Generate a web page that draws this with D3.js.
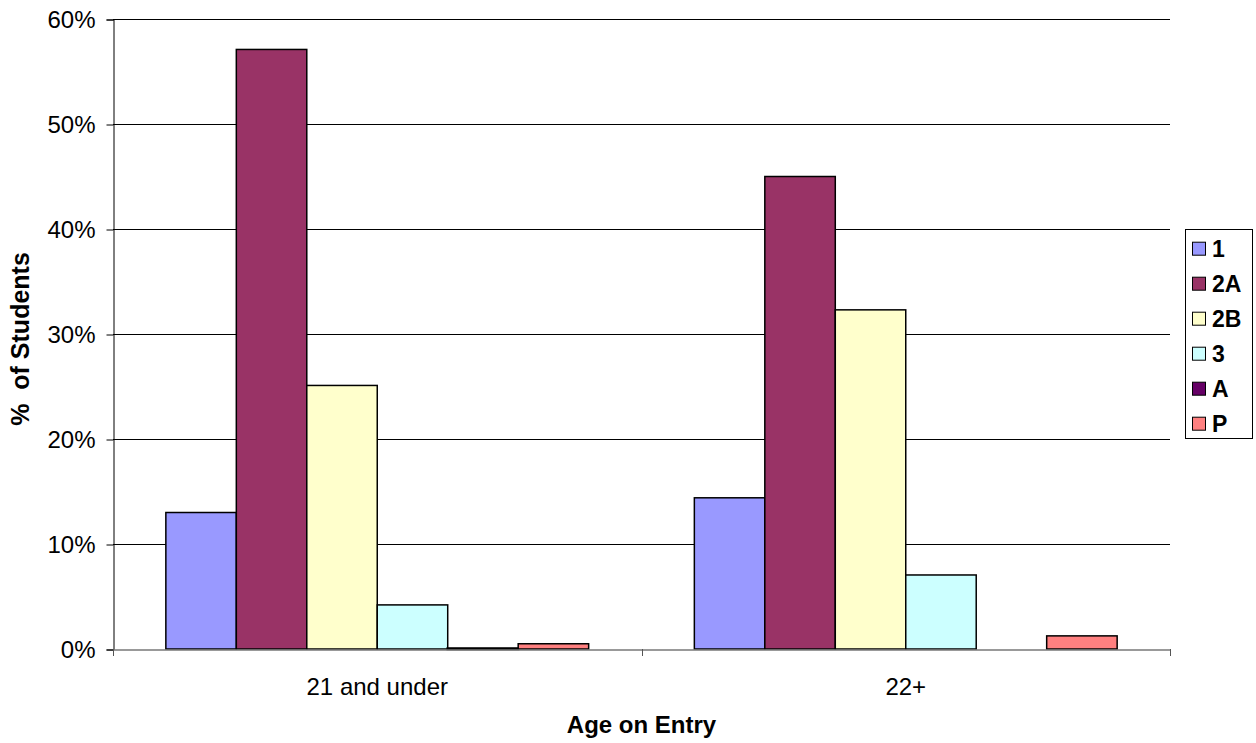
<!DOCTYPE html>
<html>
<head>
<meta charset="utf-8">
<script src="https://cdn.jsdelivr.net/npm/d3@7"></script>
<style>
  html, body { margin: 0; padding: 0; background: #fff; }
  svg text { font-family: "Liberation Sans", Arial, sans-serif; fill: #000; }
</style>
</head>
<body>
<svg id="chart" width="1256" height="743"></svg>
<script>
// Age groups on the x axis
const categories = ["21 and under", "22+"];
// Grade series (percent of students)
const series = ["1", "2A", "2B", "3", "A", "P"];
const values1  = [13.0, 14.4];
const values2A = [57.1, 45.0];
const values2B = [25.1, 32.3];
const values3  = [4.2, 7.05];
const valuesA  = [0.05, 0.0];
const valuesP  = [0.5, 1.25];
const yTicks = [0, 10, 20, 30, 40, 50, 60];
const colors = ["#9999FF", "#993366", "#FFFFCC", "#CCFFFF", "#660066", "#FF8080"];

const seriesValues = [values1, values2A, values2B, values3, valuesA, valuesP];

const svg = d3.select("#chart");
const plot = { left: 113, right: 1170, top: 19, bottom: 649 };

const x0 = d3.scaleBand()
  .domain(categories)
  .range([plot.left, plot.right])
  .paddingInner(0).paddingOuter(0);

// bars fill 6/7.5 of each group (150% gap width)
const groupPad = 0.75 / 7.5 * x0.bandwidth();
const x1 = d3.scaleBand()
  .domain(series)
  .range([groupPad, x0.bandwidth() - groupPad])
  .padding(0);

const y = d3.scaleLinear().domain([0, 60]).range([plot.bottom, plot.top]);

// horizontal gridlines
svg.append("g")
  .selectAll("line")
  .data(yTicks.filter(t => t > 0))
  .join("line")
  .attr("x1", plot.left).attr("x2", plot.right)
  .attr("y1", d => y(d) + 0.5).attr("y2", d => y(d) + 0.5)
  .attr("stroke", "#000").attr("stroke-width", 1);

// y axis
const yAxis = d3.axisLeft(y)
  .tickValues(yTicks)
  .tickFormat(d => d + "%")
  .tickSize(7)
  .tickPadding(11);
const gy = svg.append("g")
  .attr("transform", `translate(${plot.left + 0.5},0.5)`)
  .call(yAxis);
gy.select(".domain").attr("stroke", "#000");
gy.selectAll(".tick line").attr("stroke", "#000");
gy.selectAll("text").style("font-size", "24px").attr("fill", "#000");

// bars
const rows = [];
categories.forEach((c, ci) => {
  series.forEach((s, si) => {
    rows.push({ cat: c, ser: s, si: si, value: seriesValues[si][ci] });
  });
});

svg.append("g")
  .selectAll("rect")
  .data(rows.filter(d => d.value > 0))
  .join("rect")
  .attr("x", d => x0(d.cat) + x1(d.ser))
  .attr("width", x1.bandwidth())
  .attr("y", d => y(d.value))
  .attr("height", d => y(0) - y(d.value))
  .attr("fill", d => colors[d.si])
  .attr("stroke", "#000")
  .attr("stroke-width", d => d.value < 0.2 ? 2.5 : 1.5);

// x axis
const xAxis = d3.axisBottom(x0).tickSize(0).tickPadding(28);
const gx = svg.append("g")
  .attr("transform", `translate(0,${plot.bottom + 0.5})`)
  .call(xAxis);
gx.select(".domain").attr("stroke", "#777").attr("stroke-width", 1.5);
gx.selectAll("text").style("font-size", "24px").attr("fill", "#000");

// category separator ticks
const sepX = [plot.left, plot.left + x0.bandwidth(), plot.right];
svg.append("g")
  .selectAll("line")
  .data(sepX)
  .join("line")
  .attr("x1", d => Math.round(d) + 0.5).attr("x2", d => Math.round(d) + 0.5)
  .attr("y1", plot.bottom).attr("y2", plot.bottom + 7)
  .attr("stroke", "#555").attr("stroke-width", 1);

// axis titles
svg.append("text")
  .attr("x", (plot.left + plot.right) / 2)
  .attr("y", 733)
  .attr("text-anchor", "middle")
  .style("font-size", "24px")
  .style("font-weight", "bold")
  .text("Age on Entry");

svg.append("text")
  .attr("transform", "translate(29,339) rotate(-90)")
  .attr("text-anchor", "middle")
  .style("font-size", "25px")
  .style("font-weight", "bold")
  .style("white-space", "pre")
  .text("%  of Students");

// legend
const legend = svg.append("g").attr("transform", "translate(1185,229)");
legend.append("rect")
  .attr("x", 0.5).attr("y", 0.5)
  .attr("width", 67).attr("height", 209)
  .attr("fill", "#fff").attr("stroke", "#000").attr("stroke-width", 1);

const items = legend.selectAll("g.item")
  .data(series)
  .join("g")
  .attr("class", "item")
  .attr("transform", (d, i) => `translate(0,${19.7 + i * 35})`);
items.append("rect")
  .attr("x", 7.5).attr("y", -6.5)
  .attr("width", 13).attr("height", 13)
  .attr("fill", (d, i) => colors[i])
  .attr("stroke", "#000").attr("stroke-width", 1);
items.append("text")
  .attr("x", 27)
  .attr("y", 0)
  .attr("dy", "0.36em")
  .style("font-size", "23px")
  .style("font-weight", "bold")
  .text(d => d);
</script>
</body>
</html>
